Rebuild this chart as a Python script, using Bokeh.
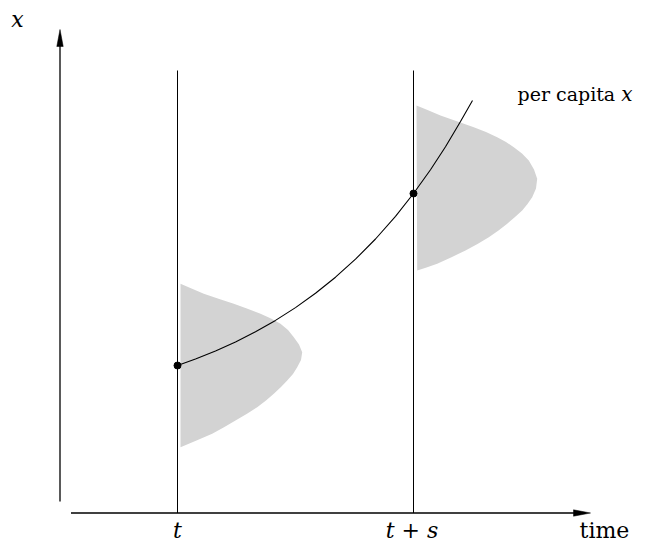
from bokeh.plotting import figure
from bokeh.models import Range1d
from bokeh.core.properties import value
from bokeh.embed import file_html
from bokeh.resources import INLINE

# Diagram coordinates: horizontal = time position, vertical = x value (up)
H = 544  # flip helper: value = H - screen row

# two observation times (t and t+s)
time_marks = [177, 413]
time_labels = ["t", "t + s"]

# per-capita x trajectory
curve_time = [177, 195, 215, 235, 255, 275, 295, 315, 335, 355, 375, 395, 413, 430, 445, 460, 472]
curve_x = [H - v for v in [365, 358.5, 350.5, 341.4, 331.3, 319.9, 307.1, 292.8, 276.7, 258.7,
                           238.5, 215.8, 193, 169.3, 146.3, 121, 100]]

# points on the trajectory at t and t+s
dot_time = [177, 413]
dot_x = [H - 365, H - 193]

# distribution of x at time t (outline)
dens1_t = [180, 191, 203.3, 218, 233.3, 247, 260, 270.5, 280, 287.5, 293.3, 298.5, 301.7, 300.5,
           296.7, 292.5, 286.7, 280.5, 273.3, 265.5, 256.7, 246.5, 235, 223.5, 211.7, 196, 180]
dens1_x = [H - v for v in [283.3, 288, 293.3, 298.3, 303.3, 308.3, 313.3, 318, 323.3, 329.5, 336.7, 344,
                           351.7, 359.5, 366.7, 373.5, 380, 386.5, 393.3, 400, 406.7, 413.3, 420, 426.7,
                           433.3, 440, 446.7]]

# distribution of x at time t+s
dens2_t = [416, 427, 440, 457, 473.3, 485.5, 496.7, 505.5, 513.3, 521.5, 528.3, 533.5, 536.7, 535.5,
           531.7, 527, 521.7, 514.5, 506.7, 498, 488.3, 477, 465, 451, 436.7, 426, 416.7]
dens2_x = [H - v for v in [105, 109.5, 115, 121, 126.7, 131.5, 136.7, 141.5, 146.7, 153, 160, 169, 178.3,
                           188, 196.7, 203.5, 210, 216.5, 223.3, 230, 236.7, 243.5, 250, 256.7, 263.3,
                           267, 270]]

# axes geometry
Y_AXIS_T = 59.5
Y_AXIS_BOTTOM = H - 501
Y_AXIS_TIP = H - 29
X_AXIS_X = H - 512.5
X_AXIS_LEFT = 70.5
X_AXIS_TIP = 590
HEAD_LEN = 17
HEAD_HALF = 3.2
VLINE_TOP = H - 70

FONT = value("DejaVu Serif")
FS = "22px"
FS_CURVE = "19px"
FS_CURVE_X = "20px"

p = figure(width=664, height=544, x_range=Range1d(0, 664), y_range=Range1d(0, 544),
           output_backend="svg", toolbar_location=None, min_border=0,
           x_axis_location=None, y_axis_location=None)
p.grid.visible = False
p.outline_line_color = None
p.background_fill_color = "white"
p.border_fill_color = "white"

# density shapes
p.patch(dens1_t, dens1_x, fill_color="#d3d3d3", line_color=None)
p.patch(dens2_t, dens2_x, fill_color="#d3d3d3", line_color=None)

# vertical time lines
for tm in time_marks:
    p.line([tm, tm], [VLINE_TOP, X_AXIS_X], line_color="black", line_width=1)

# axes
p.line([Y_AXIS_T, Y_AXIS_T], [Y_AXIS_BOTTOM, Y_AXIS_TIP - HEAD_LEN + 1], line_color="black", line_width=1.3)
p.patch([Y_AXIS_T - HEAD_HALF, Y_AXIS_T, Y_AXIS_T + HEAD_HALF],
        [Y_AXIS_TIP - HEAD_LEN, Y_AXIS_TIP, Y_AXIS_TIP - HEAD_LEN], fill_color="black", line_color="black", line_width=0.5)
p.line([X_AXIS_LEFT, X_AXIS_TIP - HEAD_LEN + 1], [X_AXIS_X, X_AXIS_X], line_color="black", line_width=1.3)
p.patch([X_AXIS_TIP - HEAD_LEN, X_AXIS_TIP, X_AXIS_TIP - HEAD_LEN],
        [X_AXIS_X - HEAD_HALF, X_AXIS_X, X_AXIS_X + HEAD_HALF], fill_color="black", line_color="black", line_width=0.5)

# trajectory
p.line(curve_time, curve_x, line_color="black", line_width=1.1)
p.scatter(dot_time, dot_x, size=7, fill_color="black", line_color="black")

# labels
p.text(x=[17], y=[H - 19], text=["x"], text_font=FONT, text_font_style="italic",
       text_font_size=FS, text_align="center", text_baseline="middle", text_color="black")
p.text(x=[177, 411.5], y=[H - 530, H - 530], text=time_labels, text_font=FONT, text_font_style="italic",
       text_font_size=FS, text_align="center", text_baseline="middle", text_color="black")
p.text(x=[604], y=[H - 530], text=["time"], text_font=FONT,
       text_font_size=FS, text_align="center", text_baseline="middle", text_color="black")
p.text(x=[517], y=[H - 93], text=["per capita"], text_font=FONT,
       text_font_size=FS_CURVE, text_align="left", text_baseline="alphabetic", text_color="black")
p.text(x=[632], y=[H - 93], text=["x"], text_font=FONT, text_font_style="italic",
       text_font_size=FS_CURVE_X, text_align="right", text_baseline="alphabetic", text_color="black")

open("out.html", "w").write(file_html(p, INLINE))
